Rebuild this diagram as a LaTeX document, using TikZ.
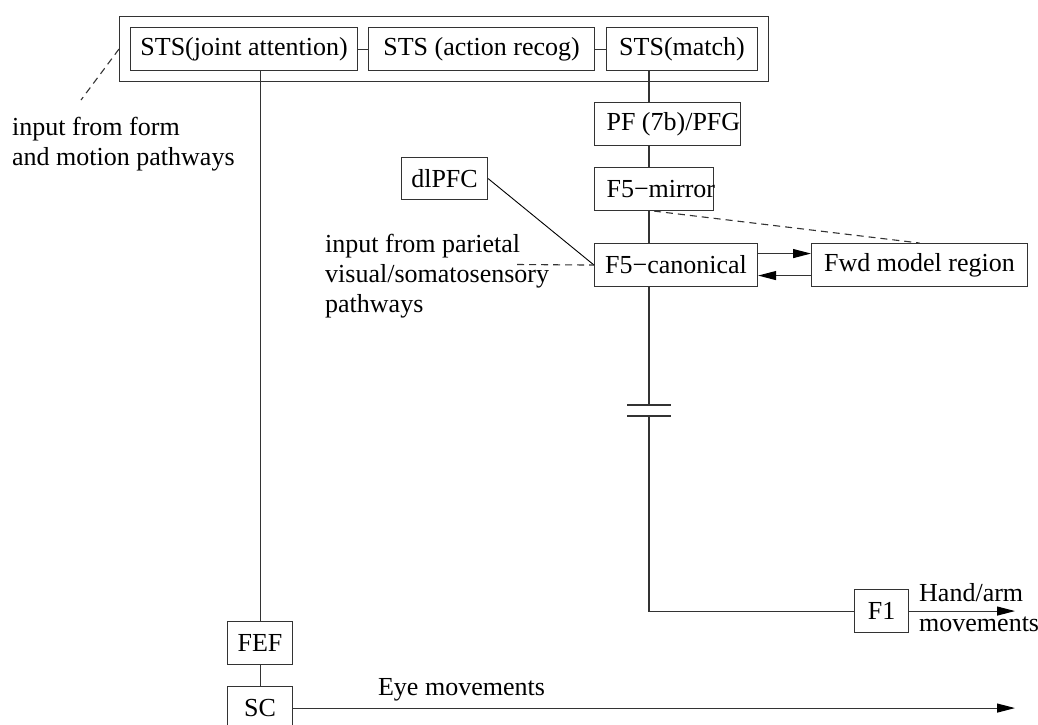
\documentclass[tikz,border=0pt]{standalone}
\usepackage{fontspec}
\setmainfont{Liberation Serif}
\usetikzlibrary{arrows.meta}
\begin{document}
\begin{tikzpicture}[x=1pt,y=-1pt,
  every node/.style={font=\fontsize{26}{30}\selectfont},
  box/.style={draw=black!80, line width=1.1pt, inner sep=0pt, minimum height=43pt, anchor=north west},
  wire/.style={draw=black!80, line width=1.1pt},
  dashwire/.style={wire, dash pattern=on 7pt off 5pt},
  head/.style={-{Triangle[length=18pt,width=9pt,color=black]}},
  lbl/.style={inner sep=0pt, align=left}
]
\clip (0,0) rectangle (1038,724);
\fill[white] (0,0) rectangle (1038,724);

% STS group
\node[box, minimum width=649pt, minimum height=65pt] (outer) at (119,16) {};
\node[box, minimum width=227pt] (joint) at (130,27) {STS(joint attention)};
\node[box, minimum width=226pt] (action) at (368,27) {STS (action recog)};
\node[box, minimum width=151pt] (match) at (606,27) {STS(match)};

% parieto-frontal chain
\node[box, inner xsep=12pt] (pf) at (594,102) {\makebox[122pt][l]{PF (7b)/PFG}};
\node[box, inner xsep=12pt] (mirror) at (594,167) {\makebox[95pt][l]{F5−mirror}};
\node[box, minimum width=86pt, minimum height=42pt] (dlpfc) at (401,157) {dlPFC};
\node[box, minimum width=163pt] (canon) at (594,243) {F5−canonical};
\node[box, minimum width=216pt] (fwd) at (811,243) {Fwd model region};
\node[box, minimum width=54pt] (f1) at (854,589) {F1};

% oculomotor chain
\node[box, minimum width=65pt] (fef) at (227,621) {FEF};
\node[box, minimum width=65pt] (sc) at (227,686) {SC};

% labels
\node[lbl, anchor=west] (formlbl) at (12,144) {input from form\\and motion pathways};
\node[lbl, anchor=west] (parlbl) at (325,276) {input from parietal\\visual/somatosensory\\pathways};
\node[lbl] (eyelbl) at (461.5,690) {Eye movements};
\node[lbl, anchor=west] (handlbl) at (919,607.5) {Hand/arm\\movements};

% helper coordinates
\coordinate (spine) at (649,0);
\coordinate (brk1) at (649,405);
\coordinate (brk2) at (649,416);
\coordinate (endx) at (1015,0);
\coordinate (formend) at (81,100);
\coordinate (parend) at (517,264.5);

% connectors
\draw[wire] (joint.east) -- (action.west);
\draw[wire] (action.east) -- (match.west);
\draw[wire] (fef.north |- joint.south) -- (fef.north);
\draw[wire] (fef.south) -- (sc.north);
\draw[wire, head] (sc.east) -- (sc.east -| endx);

\draw[wire] (spine |- match.south) -- (spine |- pf.north);
\draw[wire] (spine |- pf.south) -- (spine |- mirror.north);
\draw[wire] (spine |- mirror.south) -- (spine |- canon.north);
\draw[wire] (spine |- canon.south) -- (brk1);
\draw[wire] ([xshift=-22pt]brk1) -- ([xshift=22pt]brk1);
\draw[wire] ([xshift=-22pt]brk2) -- ([xshift=22pt]brk2);
\draw[wire] (brk2) |- (f1.west);
\draw[wire, head] (f1.east) -- (f1.east -| endx);

\draw[draw=black, line width=0.9pt] (dlpfc.east) -- (canon.west);
\draw[dashwire] (parend) -- (canon.west);
\draw[dashwire] (mirror.south) -- (fwd.north);
\draw[wire, head] ([yshift=11.5pt]canon.east) -- ([yshift=11.5pt]canon.east -| fwd.west);
\draw[wire, head] ([yshift=-10.5pt]fwd.west) -- ([yshift=-10.5pt]fwd.west -| canon.east);

\draw[dashwire] (outer.west) -- (formend);
\end{tikzpicture}
\end{document}
